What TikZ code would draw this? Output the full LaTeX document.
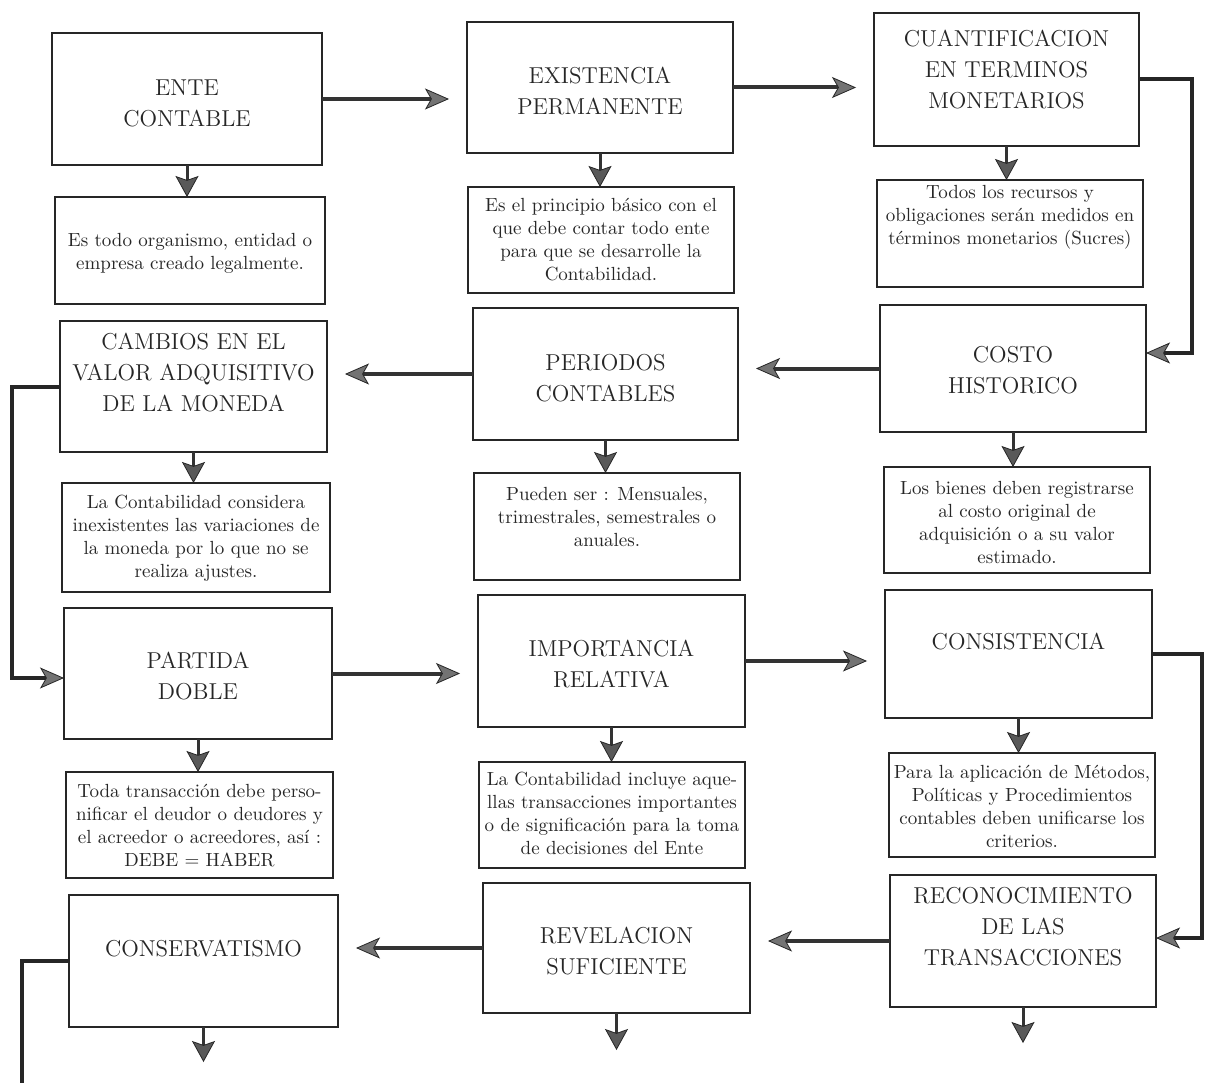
\documentclass[tikz,border=0pt]{standalone}
\usetikzlibrary{arrows.meta}
\begin{document}
\begin{tikzpicture}[x=0.5pt,y=-0.5pt,
  box/.style 2 args={draw=black!85, line width=0.9pt, inner sep=0pt, outer sep=0pt,
                     minimum width=#1pt, minimum height=#2pt},
  ttl/.style={align=center, font=\fontsize{11.5}{15.5}\selectfont, text=black!85, inner sep=0pt},
  dsc/.style={align=center, font=\fontsize{9.5}{11.5}\selectfont, text=black!85, inner sep=0pt},
  myhead/.tip={Stealth[length=12pt, width=10.5pt, inset=3pt, fill=black!55, color=black!85, line width=0.4pt]},
  downhead/.tip={Stealth[length=10.5pt, width=11.5pt, inset=2pt, fill=black!65, color=black!85, line width=0.4pt]},
  link/.style={draw=black!80, line width=2pt, -{myhead}, shorten >=9pt},
  elbow/.style={draw=black!85, line width=2pt, -{myhead}},
  trail/.style={draw=black!85, line width=2pt},
  drop/.style={draw=black!80, line width=1.5pt, -{downhead}},
]
% page
\fill[white] (0,0) rectangle (1214,1083);

% ---------- row 1 ----------
\node[box={135}{66}]   (ente)      at (187,99)     {};
\node[box={135}{53.5}] (enteD)     at (190,250.5)  {};
\node[box={133}{65.5}] (exist)     at (600,87.5)   {};
\node[box={133}{53}]   (existD)    at (601,240)    {};
\node[box={132.5}{66.5}] (cuant)   at (1006.5,79.5) {};
\node[box={133}{53.5}] (cuantD)    at (1010,233.5) {};

\node[ttl] (enteT)   at (187,103)  {ENTE\\CONTABLE};
\node[dsc] (enteDT)  at (190,253)  {Es todo organismo, entidad o\\empresa creado legalmente.};
\node[ttl] (existT)  at (600,91)   {EXISTENCIA\\PERMANENTE};
\node[dsc] (existDT) at (601,240)  {Es el principio básico con el\\que debe contar todo ente\\para que se desarrolle la\\Contabilidad.};
\node[ttl] (cuantT)  at (1006.5,70) {CUANTIFICACION\\EN TERMINOS\\MONETARIOS};
\node[dsc] (cuantDT) at (1010,217) {Todos los recursos y\\obligaciones serán medidos en\\términos monetarios (Sucres)};

% ---------- row 2 ----------
\node[box={133.5}{65.5}] (cambios)  at (193.5,386.5) {};
\node[box={134}{54.5}]   (cambiosD) at (196,537.5)   {};
\node[box={132.5}{66}]   (periodos) at (605.5,374)   {};
\node[box={133}{53.5}]   (periodosD) at (607,526.5)  {};
\node[box={133}{63.5}]   (costo)    at (1013,368.5)  {};
\node[box={133}{53}]     (costoD)   at (1017,520)    {};

\node[ttl] (cambiosT)  at (193.5,373) {CAMBIOS EN EL\\VALOR ADQUISITIVO\\DE LA MONEDA};
\node[dsc] (cambiosDT) at (196,538)   {La Contabilidad considera\\inexistentes las variaciones de\\la moneda por lo que no se\\realiza ajustes.};
\node[ttl] (periodosT) at (605.5,378) {PERIODOS\\CONTABLES};
\node[dsc] (periodosDT) at (607,517)  {Pueden ser : Mensuales,\\trimestrales, semestrales o\\anuales.};
\node[ttl] (costoT)    at (1013,370)  {COSTO\\HISTORICO};
\node[dsc] (costoDT)   at (1017,523)  {Los bienes deben registrarse\\al costo original de\\adquisición o a su valor\\estimado.};

% ---------- row 3 ----------
\node[box={134}{65.5}]   (partida)  at (198,673.5)  {};
\node[box={133.5}{53}]   (partidaD) at (199.5,825)  {};
\node[box={133.5}{66}]   (importancia) at (611.5,661) {};
\node[box={133}{53}]     (importanciaD) at (612,815) {};
\node[box={133.5}{64}]   (consis)   at (1018.5,654) {};
\node[box={133}{52}]     (consisD)  at (1022,805)   {};

\node[ttl] (partidaT)  at (198,676)   {PARTIDA\\DOBLE};
\node[dsc] (partidaDT) at (199.5,826) {Toda transacción debe perso-\\nificar el deudor o deudores y\\el acreedor o acreedores, así :\\DEBE = HABER};
\node[ttl] (importanciaT)  at (611.5,664) {IMPORTANCIA\\RELATIVA};
\node[dsc] (importanciaDT) at (612,813)   {La Contabilidad incluye aque-\\llas transacciones importantes\\o de significación para la toma\\de decisiones del Ente};
\node[ttl] (consisT)   at (1018.5,642) {CONSISTENCIA};
\node[dsc] (consisDT)  at (1022,806)   {Para la aplicación de Métodos,\\Políticas y Procedimientos\\contables deben unificarse los\\criterios.};

% ---------- row 4 ----------
\node[box={134.5}{66}] (conserv) at (203.5,961) {};
\node[box={133.5}{65}] (revel)   at (616.5,948) {};
\node[box={133}{66}]   (recon)   at (1023,941)  {};

\node[ttl] (conservT) at (203.5,949) {CONSERVATISMO};
\node[ttl] (revelT)   at (616.5,951) {REVELACION\\SUFICIENTE};
\node[ttl] (reconT)   at (1023,927)  {RECONOCIMIENTO\\DE LAS\\TRANSACCIONES};

% ---------- horizontal links ----------
\draw[link] (ente.east)     -- (ente.east -| exist.west);
\draw[link] (exist.east)    -- (exist.east -| cuant.west);
\draw[link] (costo.west)    -- (costo.west -| periodos.east);
\draw[link] (periodos.west) -- (periodos.west -| cambios.east);
\draw[link] (partida.east)  -- (partida.east -| importancia.west);
\draw[link] (importancia.east) -- (importancia.east -| consis.west);
\draw[link] (recon.west)    -- (recon.west -| revel.east);
\draw[link] (revel.west)    -- (revel.west -| conserv.east);

% ---------- elbow links ----------
\coordinate (bendA) at (1192,353);
\coordinate (bendB) at (12,678);
\coordinate (bendC) at (1202,938);
\coordinate (tailD) at (22,1083);
\draw[elbow] (cuant.east)   -| (bendA) -- (bendA -| costo.east);
\draw[elbow] (cambios.west) -| (bendB) -- (bendB -| partida.west);
\draw[elbow] (consis.east)  -| (bendC) -- (bendC -| recon.east);
\draw[trail] (conserv.west) -| (tailD);

% ---------- title to description ----------
\draw[drop] (ente.south)        -- (ente.south |- enteD.north);
\draw[drop] (exist.south)       -- (exist.south |- existD.north);
\draw[drop] (cuant.south)       -- (cuant.south |- cuantD.north);
\draw[drop] (cambios.south)     -- (cambios.south |- cambiosD.north);
\draw[drop] (periodos.south)    -- (periodos.south |- periodosD.north);
\draw[drop] (costo.south)       -- (costo.south |- costoD.north);
\draw[drop] (partida.south)     -- (partida.south |- partidaD.north);
\draw[drop] (importancia.south) -- (importancia.south |- importanciaD.north);
\draw[drop] (consis.south)      -- (consis.south |- consisD.north);

% ---------- open ends at the bottom ----------
\coordinate (endA) at (203.5,1062);
\coordinate (endB) at (616.5,1050);
\coordinate (endC) at (1023,1043);
\draw[drop] (conserv.south) -- (endA);
\draw[drop] (revel.south)   -- (endB);
\draw[drop] (recon.south)   -- (endC);
\end{tikzpicture}
\end{document}
